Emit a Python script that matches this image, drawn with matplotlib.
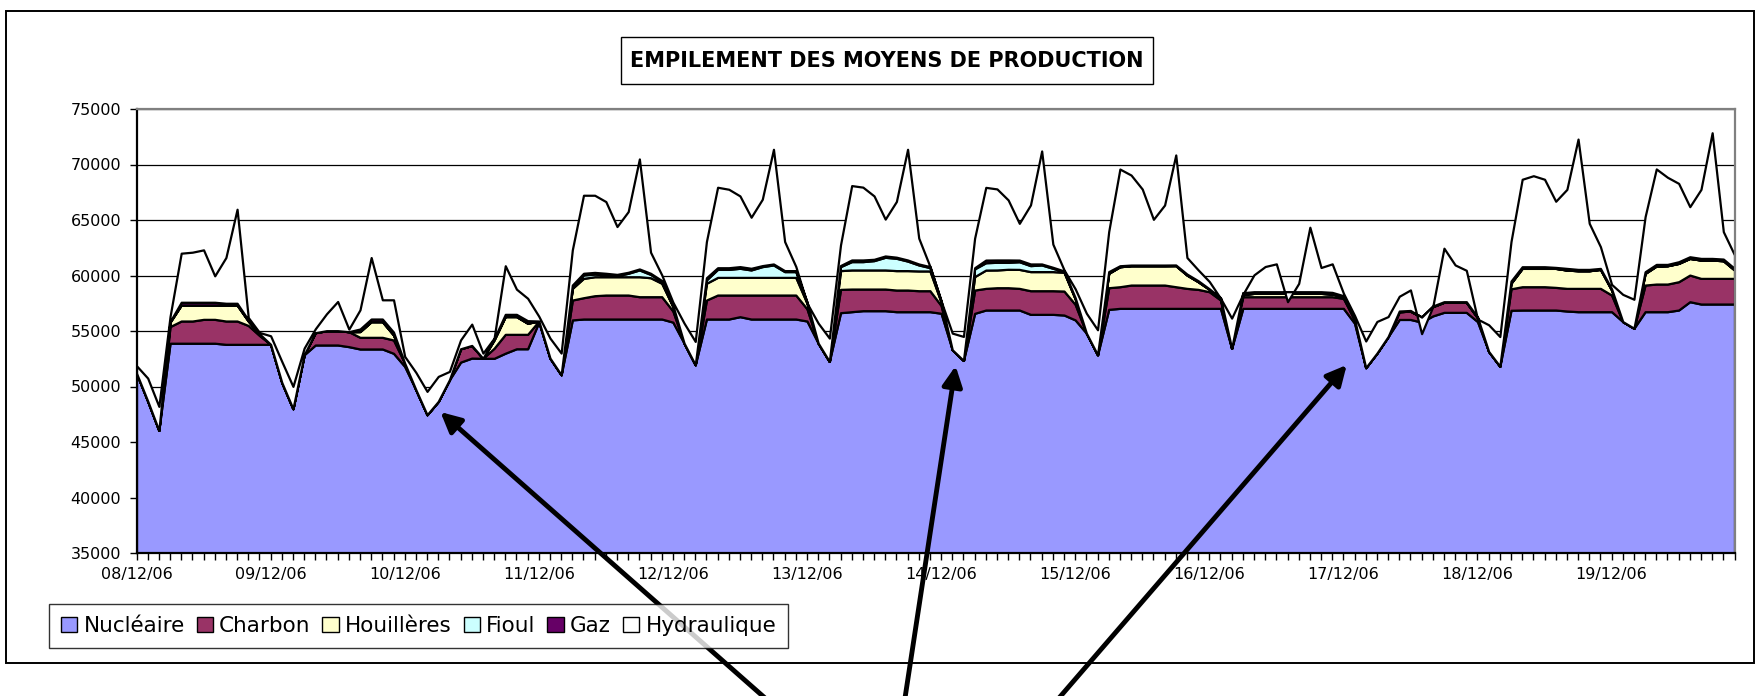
import numpy as np
import matplotlib
matplotlib.use("Agg")
import matplotlib.pyplot as plt
from matplotlib.patches import Rectangle, Patch

# ---------------- data (MW, 2-hourly, 08/12/06 -> 19/12/06) ----------------
nucleaire = [51200, 48700, 46050, 53900, 53900, 53900, 53900, 53900, 53800, 53800, 53800, 53800,
             53800, 50370, 48000, 52860, 53740, 53740, 53740, 53590, 53380, 53380, 53380, 52990,
             51810, 49710, 47460, 48660, 50610, 52200, 52560, 52540, 52540, 53000, 53400, 53400,
             55800, 52560, 51060, 56000, 56080, 56080, 56080, 56080, 56080, 56080, 56080, 56080,
             55800, 53910, 51960, 56080, 56080, 56080, 56290, 56080, 56080, 56080, 56080, 56080,
             55900, 53910, 52260, 56650, 56740, 56830, 56830, 56830, 56740, 56740, 56740, 56740,
             56600, 53310, 52350, 56590, 56890, 56890, 56890, 56890, 56500, 56500, 56500, 56440,
             56000, 54810, 52860, 56950, 57040, 57040, 57040, 57040, 57040, 57040, 57040, 57040,
             57040, 57040, 53440, 57040, 57040, 57040, 57040, 57040, 57040, 57040, 57040, 57040,
             57040, 55700, 51700, 53010, 54500, 56040, 56040, 55800, 56360, 56680, 56680, 56680,
             55850, 53160, 51830, 56870, 56890, 56890, 56890, 56890, 56800, 56740, 56740, 56740,
             56740, 55850, 55250, 56740, 56740, 56740, 56890, 57640, 57430, 57430, 57430, 57430]

charbon = [0, 0, 0, 1500, 2000, 2000, 2150, 2150, 2100, 2100, 1700, 800,
           0, 0, 0, 0, 1110, 1290, 1290, 1350, 1050, 1050, 1050, 1200,
           290, 0, 0, 0, 0, 1200, 1140, 0, 910, 1700, 1300, 1300,
           100, 0, 0, 1790, 1920, 2100, 2160, 2160, 2160, 2010, 2010, 2010,
           1000, 0, 0, 1710, 2160, 2160, 1950, 2160, 2160, 2160, 2160, 2160,
           1100, 0, 0, 2100, 2040, 1950, 1950, 1950, 1950, 1950, 1890, 1890,
           700, 0, 0, 2100, 1950, 2010, 2010, 1950, 2130, 2130, 2130, 2160,
           1400, 0, 0, 1950, 1950, 2100, 2100, 2100, 2100, 1950, 1800, 1710,
           1500, 760, 0, 1050, 1050, 1050, 1050, 1050, 1050, 1050, 1050, 1050,
           900, 300, 0, 0, 0, 700, 750, 450, 840, 910, 910, 910,
           350, 0, 0, 1930, 2100, 2100, 2100, 2040, 2040, 2100, 2100, 2100,
           1500, 0, 0, 2400, 2490, 2490, 2550, 2400, 2310, 2310, 2310, 2310]

houilleres = [0, 0, 0, 400, 1440, 1440, 1290, 1290, 1440, 1440, 400, 100,
              0, 0, 0, 0, 0, 0, 0, 0, 520, 1410, 1410, 450,
              0, 0, 0, 0, 0, 0, 0, 0, 750, 1600, 1600, 1000,
              0, 0, 0, 1050, 1740, 1710, 1650, 1650, 1650, 1800, 1710, 1210,
              400, 0, 0, 1510, 1590, 1590, 1590, 1590, 1590, 1590, 1590, 1590,
              500, 0, 0, 1690, 1720, 1720, 1720, 1720, 1750, 1750, 1780, 1780,
              300, 0, 0, 1210, 1650, 1600, 1660, 1710, 1720, 1720, 1720, 1690,
              500, 0, 0, 1300, 1800, 1740, 1740, 1740, 1740, 1900, 1200, 690,
              210, 150, 0, 210, 300, 300, 300, 300, 300, 300, 300, 240,
              150, 0, 0, 0, 0, 0, 0, 0, 0, 0, 0, 0,
              0, 0, 0, 510, 1650, 1650, 1650, 1710, 1650, 1590, 1590, 1710,
              450, 0, 0, 1050, 1620, 1650, 1650, 1500, 1650, 1650, 1590, 750]

fioul = [0, 0, 0, 0, 0, 0, 0, 0, 0, 0, 0, 0,
         0, 0, 0, 0, 0, 0, 0, 0, 0, 0, 0, 0,
         0, 0, 0, 0, 0, 0, 0, 0, 0, 0, 0, 0,
         0, 0, 0, 0, 310, 240, 160, 90, 310, 610, 300, 150,
         0, 0, 0, 300, 720, 720, 820, 670, 970, 1120, 520, 520,
         50, 0, 0, 360, 750, 750, 840, 1140, 1110, 860, 540, 300,
         50, 0, 0, 700, 660, 690, 630, 690, 540, 600, 300, 60,
         0, 0, 0, 0, 0, 0, 0, 0, 0, 0, 0, 0,
         0, 0, 0, 0, 0, 0, 0, 0, 0, 0, 0, 0,
         0, 0, 0, 0, 0, 0, 0, 0, 0, 0, 0, 0,
         0, 0, 0, 0, 0, 0, 0, 0, 0, 0, 0, 0,
         0, 0, 0, 0, 0, 0, 0, 0, 0, 0, 0, 0]

gaz = [0, 0, 0, 50, 250, 250, 250, 250, 160, 160, 100, 50,
       0, 0, 0, 0, 0, 0, 0, 0, 230, 240, 240, 260,
       0, 0, 0, 0, 0, 0, 0, 0, 100, 200, 200, 230,
       0, 0, 0, 300, 150, 150, 150, 120, 90, 90, 100, 100,
       100, 0, 0, 200, 150, 150, 150, 150, 90, 90, 90, 90,
       50, 0, 0, 100, 150, 150, 120, 120, 100, 100, 90, 90,
       50, 0, 0, 100, 240, 210, 210, 150, 150, 90, 90, 60,
       100, 0, 0, 150, 90, 60, 60, 60, 60, 60, 90, 90,
       50, 50, 0, 150, 150, 150, 150, 150, 150, 150, 150, 150,
       90, 50, 0, 0, 0, 60, 60, 0, 50, 50, 50, 50,
       50, 0, 0, 190, 150, 150, 150, 90, 150, 120, 120, 90,
       110, 0, 0, 150, 150, 120, 150, 150, 150, 150, 150, 150]

hydraulique = [670, 2060, 2160, 450, 4420, 4510, 4720, 2380, 4120, 8470, 220, 120,
               770, 1890, 2010, 600, 350, 1520, 2630, 230, 1730, 5540, 1730, 2910,
               610, 1560, 2100, 2250, 750, 800, 1920, 470, 60, 4380, 2270, 2020,
               430, 1800, 1950, 3170, 7030, 6950, 6460, 4310, 5470, 9910, 1900, 510,
               300, 1800, 2100, 3260, 7250, 7070, 6370, 4600, 5980, 10330, 2620, 370,
               -90, 1800, 2100, 1860, 6700, 6560, 5710, 3320, 5020, 9970, 2330, 20,
               0, 1500, 2160, 2660, 6550, 6400, 5410, 3310, 5320, 10180, 2090, 100,
               800, 1790, 2250, 3610, 8710, 8110, 6850, 4120, 5410, 9910, 1490, 980,
               660, -40, 2720, -150, 1520, 2270, 2510, -900, 750, 5810, 2180, 2570,
               230, 350, 2400, 2850, 1800, 1330, 1850, -1490, -50, 4820, 3310, 2830,
               -170, 2400, 2670, 3560, 7880, 8200, 7880, 5960, 7120, 11740, 4150, 1960,
               400, 2450, 2610, 4960, 8600, 7850, 7060, 4510, 6220, 11320, 2470, 1210]

day_labels = ["08/12/06", "09/12/06", "10/12/06", "11/12/06", "12/12/06", "13/12/06",
              "14/12/06", "15/12/06", "16/12/06", "17/12/06", "18/12/06", "19/12/06"]
series_names = ["Nucléaire", "Charbon", "Houillères", "Fioul", "Gaz", "Hydraulique"]
series_colors = ["#9999FF", "#993366", "#FFFFCC", "#CCFFFF", "#660066", "#FFFFFF"]
title = "EMPILEMENT DES MOYENS DE PRODUCTION"
y_ticks = [35000, 40000, 45000, 50000, 55000, 60000, 65000, 70000, 75000]

# ---------------- figure ----------------
W, H = 1760, 696
fig = plt.figure(figsize=(W / 100, H / 100), dpi=100)
fig.patch.set_facecolor("white")

# outer chart frame
fig.add_artist(Rectangle((6 / W, 1 - 663 / H), (1754 - 6) / W, (663 - 11) / H,
                         transform=fig.transFigure, fill=False, edgecolor="black", lw=1.4))

# title box
fig.add_artist(Rectangle((621 / W, 1 - 84 / H), (1153 - 621) / W, (84 - 37) / H,
                         transform=fig.transFigure, facecolor="white", edgecolor="black", lw=1.0))
fig.text(887 / W, 1 - 61 / H, title, ha="center", va="center", fontsize=15, fontweight="bold")

ax = fig.add_axes([136.5 / W, 1 - 553 / H, (1734.5 - 136.5) / W, (553 - 109) / H])
x = np.arange(len(nucleaire))
series = [nucleaire, charbon, houilleres, fioul, gaz, hydraulique]
ax.stackplot(x, *series, colors=series_colors, edgecolor="black", linewidth=1.6, zorder=2)

ax.set_xlim(0, len(nucleaire) - 1)
ax.set_ylim(y_ticks[0], y_ticks[-1])
ax.set_yticks(y_ticks)
ax.set_yticklabels([str(v) for v in y_ticks])
ax.set_xticks(np.arange(0, len(nucleaire), 12))
ax.set_xticklabels(day_labels)
ax.set_xticks(x, minor=True)
ax.tick_params(axis="y", which="both", direction="out", length=5, width=1, labelsize=11.5, pad=6)
ax.tick_params(axis="x", which="both", direction="out", length=5, width=1, labelsize=11.5, pad=5)

ax.grid(axis="y", color="black", lw=0.9, zorder=0)
ax.set_axisbelow(True)
for s in ["left", "bottom"]:
    ax.spines[s].set_color("black")
    ax.spines[s].set_linewidth(1.6)
    ax.spines[s].set_zorder(3)
for s in ["top", "right"]:
    ax.spines[s].set_color("#808080")
    ax.spines[s].set_linewidth(1.6)
    ax.spines[s].set_zorder(3)

# legend
handles = [Patch(facecolor=c, edgecolor="black", lw=1.0) for c in series_colors]
leg = fig.legend(handles, series_names, ncol=6, loc="center",
                 bbox_to_anchor=(418.5 / W, 1 - 626 / H), fontsize=15.5,
                 frameon=True, fancybox=False, edgecolor="black",
                 handlelength=0.75, handleheight=0.75, handletextpad=0.3,
                 columnspacing=0.55, borderpad=0.55, borderaxespad=0)
leg.get_frame().set_linewidth(1.0)

# annotation arrows pointing at three overnight dips
arrow_targets = [(27.2, 47700), (73.3, 51850), (108.3, 51940)]
arrow_tails_px = [(765, -2), (905, -2), (1059, -2)]
for (tx, ty), (sx, sy) in zip(arrow_targets, arrow_tails_px):
    ax.annotate("", xy=(tx, ty), xycoords="data", xytext=(sx, sy), textcoords="figure pixels",
                arrowprops=dict(arrowstyle="-|>", color="black", lw=3.5, mutation_scale=30,
                                shrinkA=0, shrinkB=0),
                annotation_clip=False, zorder=10)

fig.savefig("out.png", dpi=100)
